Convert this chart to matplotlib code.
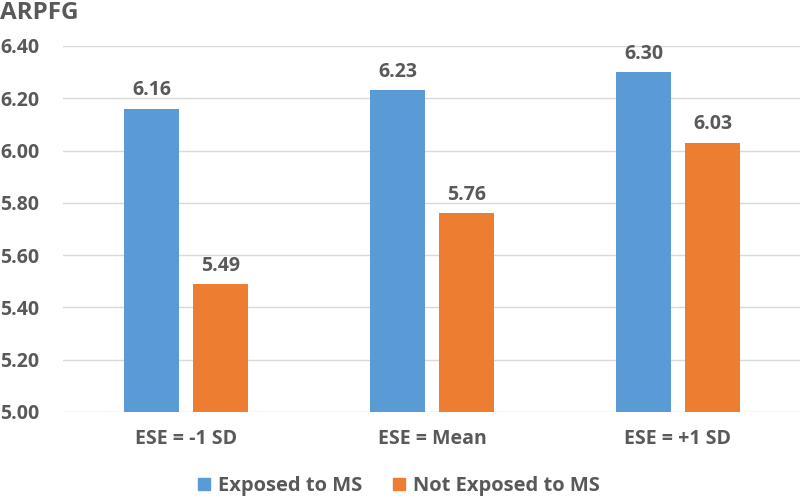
import matplotlib
matplotlib.use("Agg")
import matplotlib.pyplot as plt
import numpy as np
from matplotlib.patches import Patch

categories = ["ESE = -1 SD", "ESE = Mean", "ESE = +1 SD"]
exposed = [6.16, 6.23, 6.30]
not_exposed = [5.49, 5.76, 6.03]
series_names = ["Exposed to MS", "Not Exposed to MS"]
yticks = [5.00, 5.20, 5.40, 5.60, 5.80, 6.00, 6.20, 6.40]

FAM = ['Open Sans', 'DejaVu Sans']
plt.rcParams['font.family'] = FAM
TXT = '#595959'
BLUE = '#5B9BD5'
ORANGE = '#ED7D31'
FS = 14

fig = plt.figure(figsize=(8, 4.98), dpi=100)
ax = fig.add_axes([63/800, 1 - 412/498, (801-63)/800, (412-46)/498])

x = np.arange(len(categories))
w = 0.224
off = 0.14
b1 = ax.bar(x - off, exposed, w, color=BLUE, zorder=3)
b2 = ax.bar(x + off, not_exposed, w, color=ORANGE, zorder=3)

for bars, vals in ((b1, exposed), (b2, not_exposed)):
    for r, v in zip(bars, vals):
        ax.annotate(f"{v:.2f}", (r.get_x() + r.get_width()/2, v), xytext=(0, 6),
                    textcoords='offset points', ha='center', va='bottom',
                    fontsize=FS, fontweight='bold', color=TXT)

ax.set_ylim(5.0, 6.4)
ax.set_xlim(-0.5, 2.5)
ax.set_yticks(yticks)
ax.set_yticklabels([f"{t:.2f}" for t in yticks])
ax.set_xticks(x)
ax.set_xticklabels(categories)
ax.yaxis.grid(True, color='#D9D9D9', linewidth=1, zorder=0)
ax.set_axisbelow(True)
for s in ax.spines.values():
    s.set_visible(False)
ax.tick_params(axis='both', length=0, colors=TXT, labelsize=FS)
ax.tick_params(axis='x', pad=12)
for lab in ax.get_yticklabels() + ax.get_xticklabels():
    lab.set_fontweight('bold')
for lab in ax.get_yticklabels():
    lab.set_horizontalalignment('left')
ax.tick_params(axis='y', pad=63 * 0.72)

fig.text(0/800, 1 - 13/498, "ARPFG", fontsize=17.5, fontweight='bold', color=TXT,
         ha='left', va='center')

handles = [Patch(color=BLUE), Patch(color=ORANGE)]
fig.legend(handles, series_names, loc='center', bbox_to_anchor=(399/800, 1 - 486/498),
           ncol=2, frameon=False, handlelength=0.6, handleheight=0.6,
           handletextpad=0.4, columnspacing=1.5,
           prop={'family': FAM, 'weight': 'bold', 'size': 14.5},
           labelcolor=TXT)

fig.savefig("out.png", dpi=100)
